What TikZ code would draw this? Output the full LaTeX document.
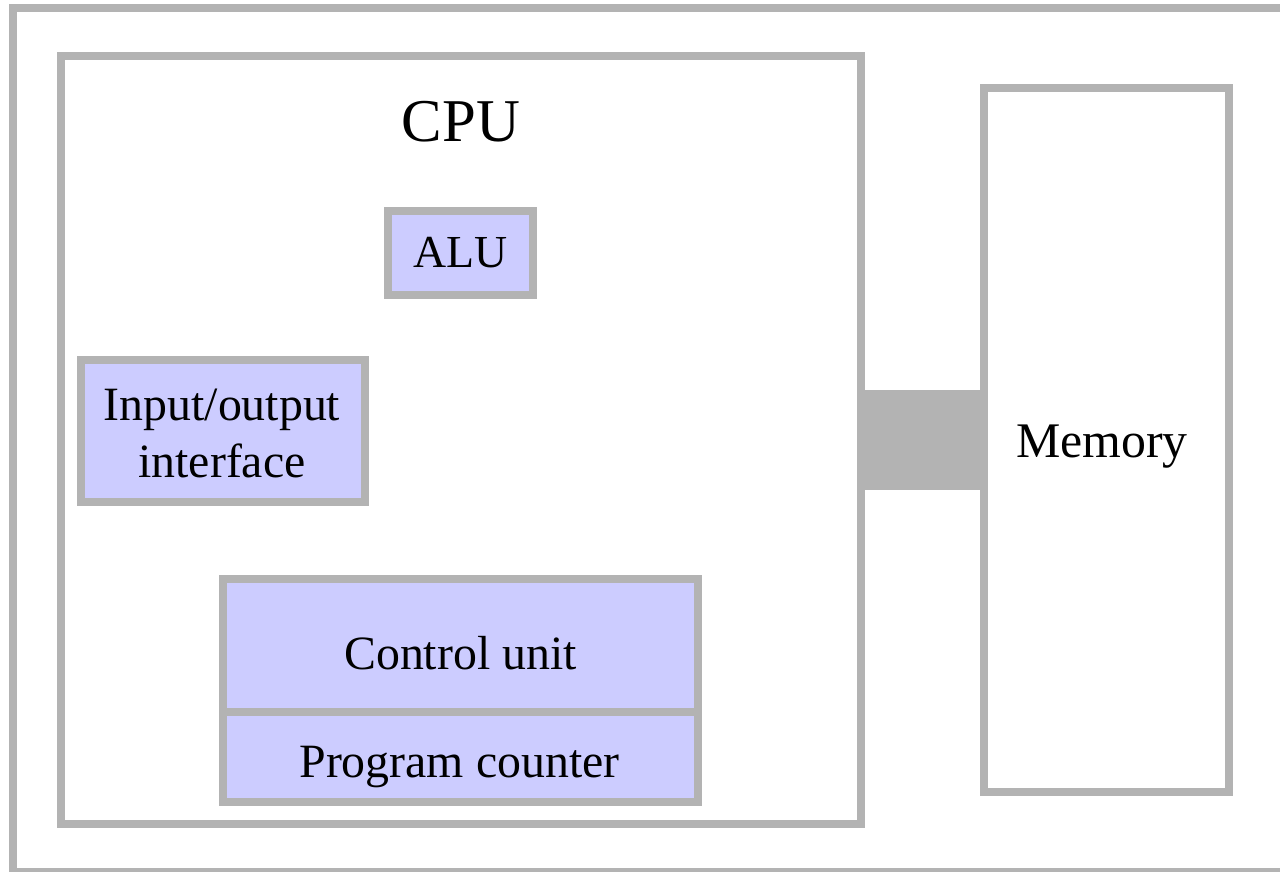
\documentclass[tikz,border=0pt]{standalone}
\usepackage{fontspec}
\setmainfont{Liberation Serif}
\definecolor{linegray}{RGB}{179,179,179}
\definecolor{unitblue}{RGB}{204,204,255}
\begin{document}
\begin{tikzpicture}[x=1bp,y=-1bp,
  frame/.style={draw=linegray, line width=8bp},
  box/.style={frame, inner sep=0pt, outer sep=0pt},
  unit/.style={box, fill=unitblue},
  lbl/.style={anchor=base, inner sep=0pt, outer sep=0pt},
  txt/.style={lbl, font=\fontsize{48}{57}\selectfont}]
\useasboundingbox (0,0) rectangle (1280,872);

% outer frame, running off the right and bottom edges
\begin{scope}
  \clip (0,0) rectangle (1280,872);
  \draw[frame] (13,8) rectangle (1300,872);
\end{scope}

% main blocks
\node[box, fill=white, minimum width=800bp, minimum height=768bp] (cpu) at (461,440) {};
\node[box, fill=white, minimum width=245bp, minimum height=704bp] (memory) at (1106.5,440) {};

% bus between CPU and memory
\fill[linegray] ([yshift=50bp]cpu.east) rectangle ([yshift=-50bp]memory.west);

% CPU parts
\node[unit, minimum width=145bp, minimum height=84bp] (alu) at (460.5,253) {};
\node[unit, minimum width=284bp, minimum height=142bp] (io) at (223,431) {};
\node[unit, minimum width=475bp, minimum height=132.5bp] (cu) at (460.5,645.25) {};
\node[unit, minimum width=475bp, minimum height=90.5bp] (pc) at (460.5,756.75) {};

% labels
\node[lbl, font=\fontsize{61}{70}\selectfont] (cpulbl) at (cpu.center |- 0,141) {CPU};
\node[lbl, font=\fontsize{46}{54}\selectfont] (alulbl) at (alu.center |- 0,267) {ALU};
\node[txt] (iolbl1) at (222,420) {Input/output};
\node[txt] (iolbl2) at (222,477) {interface};
\node[txt] (culbl) at (cu.center |- 0,669) {Control unit};
\node[txt] (pclbl) at (459.5,777) {Program counter};
\node[lbl, font=\fontsize{50}{60}\selectfont] (memlbl) at (1102,457) {Memory};
\end{tikzpicture}
\end{document}
